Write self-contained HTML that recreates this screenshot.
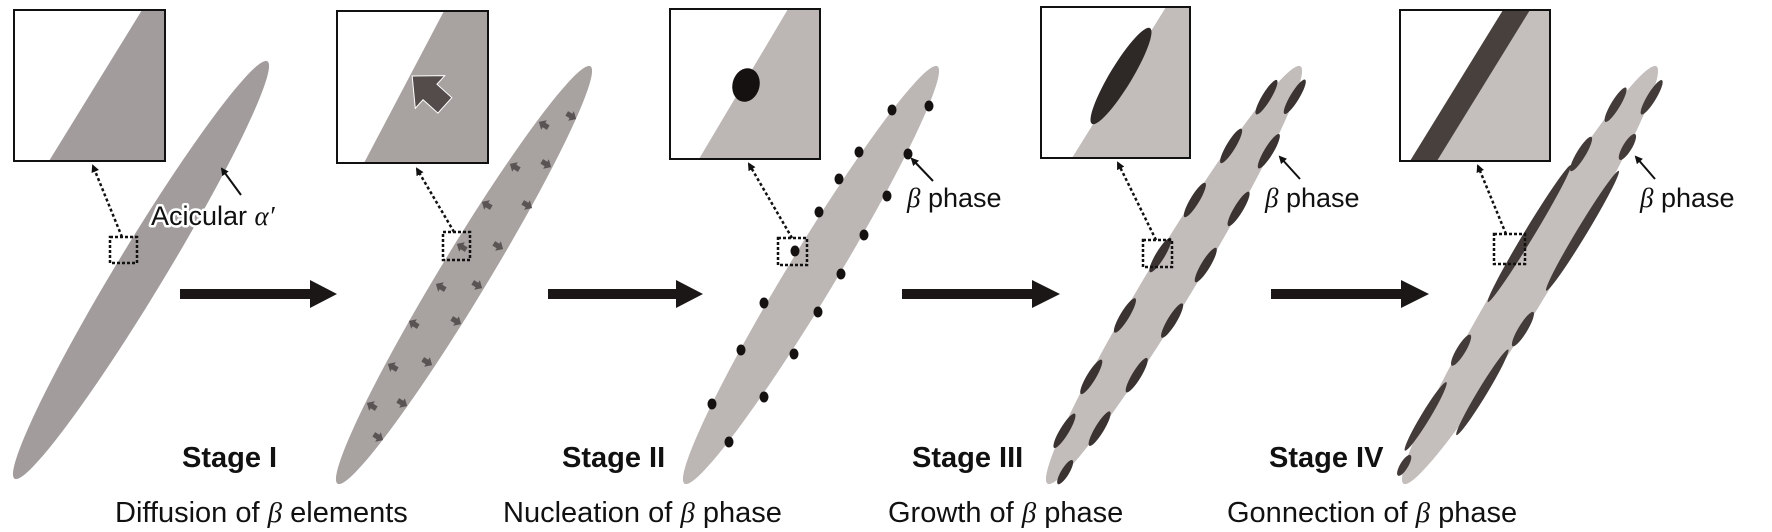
<!DOCTYPE html>
<html><head><meta charset="utf-8"><style>
html,body{margin:0;padding:0;background:#fff;}
svg{display:block;}
text{font-family:"Liberation Sans",sans-serif;fill:#111;}
.b{font-weight:bold;font-size:29px;}
.d{font-size:29px;}
.l{font-size:27px;}
</style></head><body>
<svg width="1772" height="532" viewBox="0 0 1772 532" xmlns="http://www.w3.org/2000/svg">
<defs>
<marker id="ah" markerWidth="8" markerHeight="8" refX="6" refY="4" orient="auto" markerUnits="userSpaceOnUse"><path d="M0,0 L8,4 L0,8 z" fill="#111"/></marker>
<polygon id="sa" points="-5,-2.6 0,-2.6 0,-5.5 6,0 0,5.5 0,2.6 -5,2.6" fill="#5a5454"/>
</defs>

<ellipse cx="141" cy="270" rx="244" ry="24" fill="#a29d9c" transform="rotate(-58.8 141 270)"/>
<ellipse cx="464" cy="275" rx="244" ry="24" fill="#a8a2a1" transform="rotate(-58.8 464 275)"/>
<ellipse cx="811" cy="275" rx="244" ry="24" fill="#bcb6b4" transform="rotate(-58.8 811 275)"/>
<ellipse cx="1174" cy="275" rx="244" ry="24" fill="#c2bcba" transform="rotate(-58.8 1174 275)"/>
<ellipse cx="1530" cy="275" rx="244" ry="24" fill="#c4bebc" transform="rotate(-58.8 1530 275)"/>

<g>
<use href="#sa" transform="translate(544,125) rotate(-148.8)"/>
<use href="#sa" transform="translate(515,167) rotate(-148.8)"/>
<use href="#sa" transform="translate(487,205) rotate(-148.8)"/>
<use href="#sa" transform="translate(462,247) rotate(-148.8)"/>
<use href="#sa" transform="translate(441,287) rotate(-148.8)"/>
<use href="#sa" transform="translate(414,324) rotate(-148.8)"/>
<use href="#sa" transform="translate(393,367) rotate(-148.8)"/>
<use href="#sa" transform="translate(372,406) rotate(-148.8)"/>
<use href="#sa" transform="translate(571,116) rotate(31.2)"/>
<use href="#sa" transform="translate(546,164) rotate(31.2)"/>
<use href="#sa" transform="translate(527,205) rotate(31.2)"/>
<use href="#sa" transform="translate(498,246) rotate(31.2)"/>
<use href="#sa" transform="translate(477,285) rotate(31.2)"/>
<use href="#sa" transform="translate(456,321) rotate(31.2)"/>
<use href="#sa" transform="translate(427,362) rotate(31.2)"/>
<use href="#sa" transform="translate(402,403) rotate(31.2)"/>
<use href="#sa" transform="translate(378,437) rotate(31.2)"/>
</g>

<g fill="#151111">
<ellipse cx="929" cy="106" rx="4.5" ry="5.5"/><ellipse cx="892" cy="110" rx="4.5" ry="5.5"/>
<ellipse cx="908" cy="154" rx="4.5" ry="5.5"/><ellipse cx="859" cy="152" rx="4.5" ry="5.5"/>
<ellipse cx="839" cy="179" rx="4.5" ry="5.5"/><ellipse cx="887" cy="196" rx="4.5" ry="5.5"/>
<ellipse cx="819" cy="212" rx="4.5" ry="5.5"/><ellipse cx="864" cy="235" rx="4.5" ry="5.5"/>
<ellipse cx="795" cy="251" rx="4.5" ry="5.5"/><ellipse cx="841" cy="274" rx="4.5" ry="5.5"/>
<ellipse cx="764" cy="303" rx="4.5" ry="5.5"/><ellipse cx="818" cy="312" rx="4.5" ry="5.5"/>
<ellipse cx="741" cy="350" rx="4.5" ry="5.5"/><ellipse cx="794" cy="354" rx="4.5" ry="5.5"/>
<ellipse cx="712" cy="404" rx="4.5" ry="5.5"/><ellipse cx="764" cy="397" rx="4.5" ry="5.5"/>
<ellipse cx="729" cy="442" rx="4.5" ry="5.5"/>
</g>

<g transform="translate(1174 275) rotate(-58.8)" fill="#3a3332">
<ellipse cx="200" cy="-13" rx="20" ry="4.5"/><ellipse cx="140" cy="-18" rx="20" ry="4.5"/>
<ellipse cx="75" cy="-21" rx="20" ry="4.5"/><ellipse cx="10" cy="-22" rx="20" ry="4.5"/>
<ellipse cx="-60" cy="-21" rx="20" ry="4.5"/><ellipse cx="-130" cy="-18" rx="20" ry="4.5"/>
<ellipse cx="-190" cy="-13" rx="20" ry="4.5"/>
<ellipse cx="215" cy="11" rx="20" ry="4.5"/><ellipse cx="155" cy="17" rx="20" ry="4.5"/>
<ellipse cx="90" cy="21" rx="20" ry="4.5"/><ellipse cx="25" cy="22" rx="20" ry="4.5"/>
<ellipse cx="-40" cy="22" rx="20" ry="4.5"/><ellipse cx="-105" cy="20" rx="20" ry="4.5"/>
<ellipse cx="-170" cy="16" rx="20" ry="4.5"/><ellipse cx="-225" cy="9" rx="14" ry="4"/>
</g>

<g transform="translate(1530 275) rotate(-58.8)" fill="#433b39">
<ellipse cx="190" cy="-15" rx="20" ry="4.5"/><ellipse cx="130" cy="-19" rx="20" ry="4.5"/>
<ellipse cx="35" cy="-22" rx="80" ry="5"/><ellipse cx="-100" cy="-20" rx="18" ry="4.5"/>
<ellipse cx="-175" cy="-16" rx="40" ry="4.5"/><ellipse cx="-228" cy="-9" rx="12" ry="4"/>
<ellipse cx="215" cy="12" rx="20" ry="4.5"/><ellipse cx="160" cy="17" rx="15" ry="4.5"/>
<ellipse cx="65" cy="22" rx="70" ry="5"/><ellipse cx="-50" cy="22" rx="20" ry="4.5"/>
<ellipse cx="-125" cy="20" rx="50" ry="4.5"/>
</g>

<rect x="14" y="10" width="151" height="151" fill="#fff"/>
<polygon points="142,10 165,10 165,161 49,161" fill="#a29d9c"/>
<rect x="14" y="10" width="151" height="151" fill="none" stroke="#111" stroke-width="2"/>

<rect x="337" y="11" width="151" height="152" fill="#fff"/>
<polygon points="444,11 488,11 488,163 364,163" fill="#a8a2a1"/>
<polygon points="-5,-2.6 0,-2.6 0,-5.5 6,0 0,5.5 0,2.6 -5,2.6" fill="#544c4b" stroke="#fff" stroke-width="0.25" transform="translate(430,92) rotate(-138) scale(4)"/>
<rect x="337" y="11" width="151" height="152" fill="none" stroke="#111" stroke-width="2"/>

<rect x="670" y="9" width="150" height="150" fill="#fff"/>
<polygon points="788,9 820,9 820,159 699,159" fill="#bcb6b4"/>
<ellipse cx="746" cy="85" rx="13.5" ry="17" fill="#151111" transform="rotate(15 746 85)"/>
<rect x="670" y="9" width="150" height="150" fill="none" stroke="#111" stroke-width="2"/>

<rect x="1041" y="7" width="149" height="151" fill="#fff"/>
<polygon points="1166,7 1190,7 1190,158 1072,158" fill="#c2bcba"/>
<ellipse cx="1121" cy="76" rx="56" ry="11" fill="#2e2827" transform="rotate(-58.8 1121 76)"/>
<rect x="1041" y="7" width="149" height="151" fill="none" stroke="#111" stroke-width="2"/>

<rect x="1400" y="10" width="150" height="151" fill="#fff"/>
<polygon points="1530,10 1550,10 1550,161 1437,161" fill="#c4bebc"/>
<polygon points="1503,10 1530,10 1437,161 1410,161" fill="#48403d"/>
<rect x="1400" y="10" width="150" height="151" fill="none" stroke="#111" stroke-width="2"/>

<g fill="none" stroke="#111" stroke-width="2.5" stroke-dasharray="3,2">
<rect x="110" y="237" width="27" height="26"/>
<rect x="443" y="232" width="27" height="28"/>
<rect x="778" y="238" width="29" height="27"/>
<rect x="1143" y="240" width="29" height="27"/>
<rect x="1494" y="234" width="31" height="30"/>
</g>
<g fill="none" stroke="#111" stroke-width="2.5" stroke-dasharray="3,2.5" marker-end="url(#ah)">
<line x1="122" y1="237" x2="93" y2="166"/>
<line x1="454" y1="232" x2="417" y2="169"/>
<line x1="792" y1="238" x2="749" y2="164"/>
<line x1="1156" y1="240" x2="1118" y2="163"/>
<line x1="1506" y1="234" x2="1478" y2="166"/>
</g>

<g stroke="#111" stroke-width="2" marker-end="url(#ah)">
<line x1="241" y1="195" x2="222" y2="169"/>
<line x1="933" y1="181" x2="912" y2="159"/>
<line x1="1300" y1="179" x2="1280" y2="157"/>
<line x1="1655" y1="179" x2="1636" y2="157"/>
</g>

<g fill="#1b1717">
<rect x="180" y="289" width="132" height="10"/><polygon points="310,280 337,294 310,308"/>
<rect x="548" y="289" width="128" height="10"/><polygon points="676,280 703,294 676,308"/>
<rect x="902" y="289" width="132" height="10"/><polygon points="1032,280 1060,294 1032,308"/>
<rect x="1271" y="289" width="132" height="10"/><polygon points="1401,280 1429,294 1401,308"/>
</g>

<text x="151" y="225" class="l" stroke="#fff" stroke-width="5" paint-order="stroke" stroke-linejoin="round">Acicular <tspan font-family="Liberation Serif" font-style="italic">α′</tspan></text>
<text x="907" y="207" class="l"><tspan font-family="Liberation Serif" font-style="italic">β</tspan> phase</text>
<text x="1265" y="207" class="l"><tspan font-family="Liberation Serif" font-style="italic">β</tspan> phase</text>
<text x="1640" y="207" class="l"><tspan font-family="Liberation Serif" font-style="italic">β</tspan> phase</text>

<text x="182" y="467" class="b">Stage I</text>
<text x="562" y="467" class="b">Stage II</text>
<text x="912" y="467" class="b">Stage III</text>
<text x="1269" y="467" class="b">Stage IV</text>

<text x="115" y="522" class="d">Diffusion of <tspan font-family="Liberation Serif" font-style="italic">β</tspan> elements</text>
<text x="503" y="522" class="d">Nucleation of <tspan font-family="Liberation Serif" font-style="italic">β</tspan> phase</text>
<text x="888" y="522" class="d">Growth of <tspan font-family="Liberation Serif" font-style="italic">β</tspan> phase</text>
<text x="1227" y="522" class="d">Gonnection of <tspan font-family="Liberation Serif" font-style="italic">β</tspan> phase</text>
</svg>
</body></html>
